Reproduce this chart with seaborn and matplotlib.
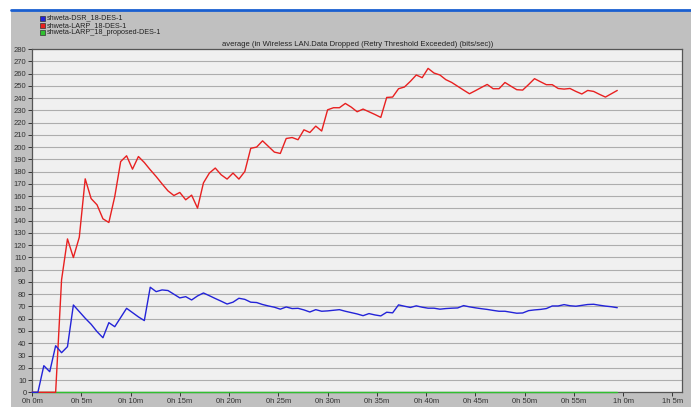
import numpy as np
import pandas as pd
import matplotlib
matplotlib.use("Agg")
import matplotlib.pyplot as plt
import seaborn as sns
from matplotlib.patches import Rectangle
from matplotlib.lines import Line2D

# sampling interval of the simulation statistic (minutes)
SAMPLE_STEP_MIN = 0.6

SERIES = ["shweta-DSR_18-DES-1", "shweta-LARP_18-DES-1", "shweta-LARP_18_proposed-DES-1"]
COLORS = ["#2323d8", "#e82020", "#30c030"]

dsr = [
    0, 0, 21.7, 16.8, 38, 32.3, 37.2, 71.2, 65.8, 60.4,
    55.5, 49.5, 44.5, 56.8, 53.5, 61, 68.5, 65, 61.5, 58.5,
    85.7, 82.1, 83.5, 83, 80, 77, 78, 75.3, 78.6, 81,
    78.8, 76.5, 74.3, 72, 73.5, 76.7, 75.8, 73.5, 73.2, 71.6,
    70.4, 69.4, 67.8, 69.6, 68.3, 68.5, 67.2, 65.5, 67.4, 66.1,
    66.4, 66.9, 67.4, 66.1, 65, 63.9, 62.5, 64.2, 63.1, 62.3,
    65.3, 64.8, 71.3, 70.2, 69.2, 70.5, 69.4, 68.6, 68.6, 67.8,
    68.3, 68.6, 68.8, 70.7, 69.7, 68.9, 68.2, 67.6, 66.8, 66.1,
    66.1, 65.3, 64.5, 64.7, 66.6, 67.2, 67.6, 68.3, 70.4, 70.4,
    71.5, 70.6, 70.2, 70.9, 71.6, 71.8, 71, 70.3, 69.8, 69,
]

larp = [
    0, 0, 0, 0, 0, 91.7, 125.1, 109.9, 126.5, 174.1,
    158, 152.9, 141.5, 138.5, 159.7, 188.2, 192.9, 182, 192.3, 187.4,
    181.5, 176, 170, 164.3, 160.5, 163, 157, 160.8, 150.2, 170.8,
    178.8, 182.9, 177.4, 173.9, 178.8, 173.9, 180.1, 199, 200, 205.1,
    200.5, 195.9, 194.8, 207, 207.8, 206, 214.1, 211.9, 217.1, 213.1,
    230.4, 232.1, 232.1, 235.6, 232.6, 228.8, 231, 228.8, 226.6, 224.2,
    240.5, 240.8, 247.6, 249, 253.6, 258.8, 256.6, 264.2, 260.4, 258.8,
    255, 252.7, 249.6, 246.5, 243.5, 246, 248.6, 251.1, 247.6, 247.6,
    252.7, 249.7, 246.8, 246.5, 251, 255.8, 253.3, 250.9, 250.9, 247.8,
    247.3, 247.8, 245.4, 243.3, 246.2, 245.4, 243, 240.8, 243.5, 246.2,
]

larp_proposed = [0] * 100

x_ticks_min = [0, 5, 10, 15, 20, 25, 30, 35, 40, 45, 50, 55, 60, 65]
x_tick_labels = ["0h 0m", "0h 5m", "0h 10m", "0h 15m", "0h 20m", "0h 25m", "0h 30m",
                 "0h 35m", "0h 40m", "0h 45m", "0h 50m", "0h 55m", "1h 0m", "1h 5m"]

TITLE = "average (in Wireless LAN.Data Dropped (Retry Threshold Exceeded) (bits/sec))"


def build_frame():
    minutes = np.arange(len(dsr)) * SAMPLE_STEP_MIN
    wide = pd.DataFrame({"minutes": minutes, SERIES[0]: dsr,
                         SERIES[1]: larp, SERIES[2]: larp_proposed})
    return wide.melt(id_vars="minutes", var_name="series", value_name="value")


def main():
    df = build_frame()

    sns.set_theme(style="white")
    plt.rcParams["font.family"] = ["Liberation Sans", "DejaVu Sans"]

    W, H = 691, 409
    fig = plt.figure(figsize=(W / 100, H / 100), dpi=100, facecolor="white")

    # grey window background + blue title bar line
    fig.patches.append(Rectangle((11 / W, 2 / H), 680 / W, 396 / H, transform=fig.transFigure,
                                 facecolor="#c0c0c0", edgecolor="none", zorder=-5))
    fig.add_artist(Line2D([11 / W, 1], [1 - 10 / H, 1 - 10 / H], transform=fig.transFigure,
                          color="#1a5fd0", lw=2))

    ax = fig.add_axes([32 / W, (H - 392.3) / H, 650.3 / W, 343.3 / H])
    ax.set_zorder(2)
    ax.set_facecolor("#f0f0f0")

    # draw green first and blue last so blue sits on top
    palette = dict(zip(SERIES, COLORS))
    sns.lineplot(data=df, x="minutes", y="value", hue="series",
                 hue_order=[SERIES[2], SERIES[1], SERIES[0]], palette=palette,
                 linewidth=1.0, legend=False, ax=ax)
    # let the zero-valued series show on top of the x axis line
    for ln in ax.lines:
        ln.set_clip_on(False)
        ln.set_zorder(3)

    ax.set_xlim(0, 66)
    ax.set_ylim(0, 280)
    ax.set_yticks(range(0, 281, 10))
    ax.set_xticks(x_ticks_min)
    ax.set_xticklabels(x_tick_labels)
    ax.set_xlabel("")
    ax.set_ylabel("")
    ax.grid(axis="y", color="#adadad", lw=0.8)
    ax.set_axisbelow(True)
    ax.tick_params(axis="both", labelsize=5.5, colors="#333333", length=3, width=0.7, pad=1)
    ax.tick_params(axis="both", which="both", left=True, bottom=True)
    for s in ax.spines.values():
        s.set_color("#555555")
        s.set_linewidth(0.9)
        s.set_zorder(2.5)

    ax.set_title(TITLE, fontsize=5.5, color="#222222", pad=2)

    # legend block at top-left
    for i, (name, col) in enumerate(zip(SERIES, COLORS)):
        ytop = 15.5 + i * 7.2
        fig.patches.append(Rectangle((39.5 / W, 1 - (ytop + 5) / H), 5 / W, 5 / H,
                                     transform=fig.transFigure, facecolor=col,
                                     edgecolor="#333333", lw=0.5, zorder=3))
        fig.text(46.5 / W, 1 - (ytop + 2.6) / H, name, fontsize=5.2, color="#222222",
                 va="center", ha="left")

    fig.savefig("out.png", dpi=100, facecolor=fig.get_facecolor())
    plt.close(fig)


if __name__ == "__main__":
    main()
